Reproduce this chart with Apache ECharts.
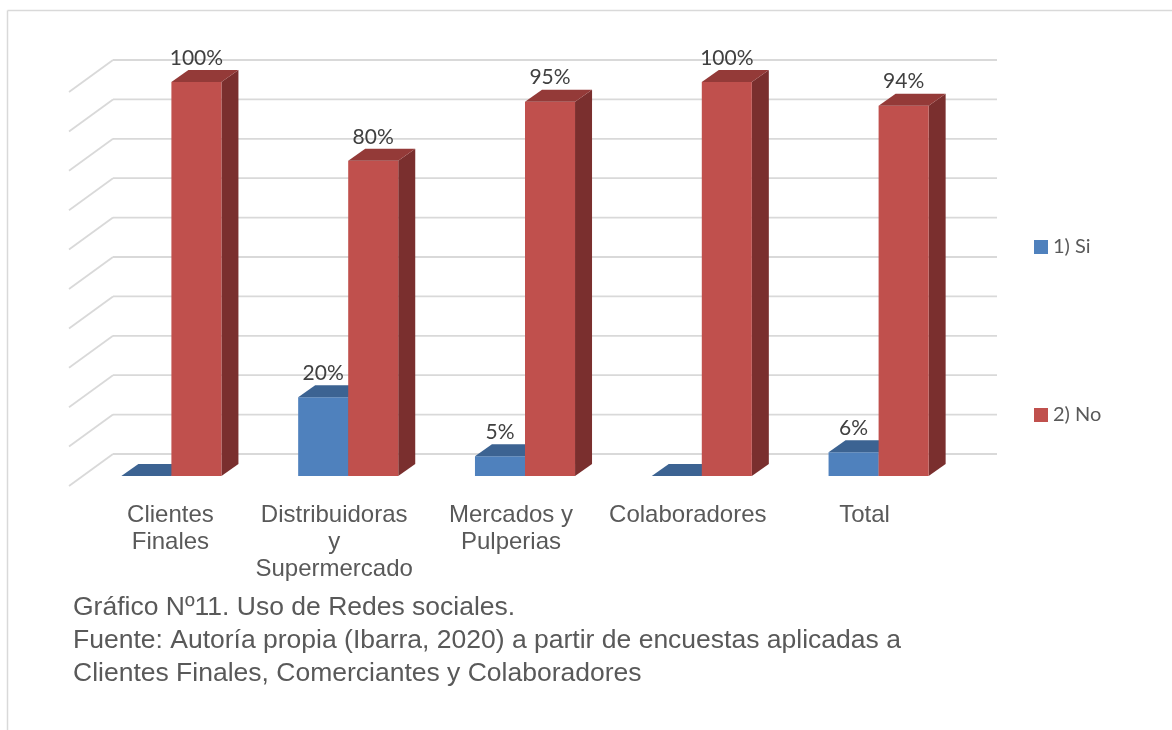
<!DOCTYPE html>
<html>
<head>
<meta charset="utf-8">
<script src="https://cdn.jsdelivr.net/npm/echarts@6/dist/echarts.min.js"></script>
<style>
  html, body { margin: 0; padding: 0; background: #ffffff; }
  #chart { width: 1172px; height: 730px; }
</style>
</head>
<body>
<div id="chart"></div>
<script>
// Uso de Redes sociales por tipo de encuestado (porcentaje)
const categories = ['Clientes\nFinales', 'Distribuidoras\ny\nSupermercado', 'Mercados y\nPulperias', 'Colaboradores', 'Total'];
const siValues = [0, 20, 5, 0, 6];
const noValues = [100, 80, 95, 100, 94];
const wallTicks = [0, 10, 20, 30, 40, 50, 60, 70, 80, 90, 100];
const seriesNames = ['1) Si', '2) No'];
const captionLines = [
  'Gráfico Nº11. Uso de Redes sociales.',
  'Fuente: Autoría propia (Ibarra, 2020) a partir de encuestas aplicadas a',
  'Clientes Finales, Comerciantes y Colaboradores'
];

// Pseudo-3D geometry (pixels): the grid is the front edge of the floor
const WALL_DX = 44, WALL_DY = -32;     // back wall offset from floor front
const FACE_DX = 14, FACE_DY = -10;     // bar front face offset from floor front
const DEPTH_DX = 17, DEPTH_DY = -12;   // bar depth
const BAR_FRACTION = 0.283;            // bar width as share of a category band

const palette = {
  si: { front: '#4F81BD', top: '#3C6392', side: '#2F5078' },
  no: { front: '#C0504D', top: '#943A38', side: '#7A2F2E' }
};

const chart = echarts.init(document.getElementById('chart'));

function renderWall(params, api) {
  const cs = params.coordSys;
  const y = api.coord([0, api.value(0)])[1];
  const left = cs.x, right = cs.x + cs.width;
  const style = { stroke: '#D9D9D9', lineWidth: 1.8, fill: null };
  return {
    type: 'group',
    children: [
      { type: 'line', shape: { x1: left + WALL_DX, y1: y + WALL_DY, x2: right + WALL_DX, y2: y + WALL_DY }, style: style, silent: true },
      { type: 'line', shape: { x1: left, y1: y, x2: left + WALL_DX, y2: y + WALL_DY }, style: style, silent: true }
    ]
  };
}

function makeBarRenderer(side, colors) {
  return function (params, api) {
    const idx = api.value(0);
    const val = api.value(1);
    const topPt = api.coord([idx, val]);
    const basePt = api.coord([idx, 0]);
    const barW = api.size([1, 0])[0] * BAR_FRACTION;
    const cx = topPt[0] + FACE_DX;
    const x0 = side === 'left' ? cx - barW : cx;
    const x1 = x0 + barW;
    const yTop = topPt[1] + FACE_DY;
    const yBot = basePt[1] + FACE_DY;
    const children = [
      { type: 'polygon', shape: { points: [[x1, yTop], [x1 + DEPTH_DX, yTop + DEPTH_DY], [x1 + DEPTH_DX, yBot + DEPTH_DY], [x1, yBot]] },
        style: { fill: colors.side } },
      { type: 'rect', shape: { x: x0, y: yTop, width: barW, height: Math.max(yBot - yTop, 0) },
        style: { fill: colors.front } },
      { type: 'polygon', shape: { points: [[x0, yTop], [x1, yTop], [x1 + DEPTH_DX, yTop + DEPTH_DY], [x0 + DEPTH_DX, yTop + DEPTH_DY]] },
        style: { fill: colors.top } }
    ];
    if (val > 0) {
      children.push({
        type: 'text',
        style: {
          x: (x0 + x1) / 2, y: yTop - 24,
          text: val + '%',
          align: 'center', verticalAlign: 'middle',
          fontFamily: 'Lato', fontSize: 21, fill: '#404040'
        }
      });
    }
    return { type: 'group', children: children };
  };
}

const option = {
  backgroundColor: '#ffffff',
  animation: false,
  grid: { left: 69, right: 219, top: 92, bottom: 244, containLabel: false },
  xAxis: {
    type: 'category',
    data: categories,
    axisLine: { show: false },
    axisTick: { show: false },
    splitLine: { show: false },
    axisLabel: {
      interval: 0,
      margin: 16,
      fontFamily: 'Liberation Sans',
      fontSize: 24,
      lineHeight: 27,
      color: '#595959',
      formatter: function (value, index) {
        if (index === 0) {
          return value.split('\n').map(function (s) { return '{first|' + s + '}'; }).join('\n');
        }
        return value;
      },
      rich: {
        first: { fontFamily: 'Liberation Sans', fontSize: 24, lineHeight: 27, color: '#595959', padding: [0, 0, 0, 26] }
      }
    }
  },
  yAxis: { type: 'value', min: 0, max: 100, interval: 10, show: false },
  legend: {
    orient: 'vertical',
    left: 1034,
    top: 237,
    padding: 0,
    itemWidth: 14,
    itemHeight: 14,
    itemGap: 148,
    icon: 'rect',
    data: seriesNames,
    textStyle: { fontFamily: 'Lato', fontSize: 20, color: '#595959' }
  },
  graphic: [
    { type: 'line', shape: { x1: 7.5, y1: 10.5, x2: 7.5, y2: 730 }, style: { stroke: '#D9D9D9', lineWidth: 1.5 }, silent: true },
    { type: 'line', shape: { x1: 7.5, y1: 10.5, x2: 1172, y2: 10.5 }, style: { stroke: '#D9D9D9', lineWidth: 1.5 }, silent: true },
    {
      type: 'text', left: 73, top: 591, silent: true,
      style: {
        text: captionLines.join('\n'),
        fontFamily: 'Liberation Sans', fontSize: 26.5, lineHeight: 33, fill: '#595959'
      }
    }
  ],
  series: [
    {
      name: 'wall', type: 'custom', silent: true, z: 1,
      renderItem: renderWall,
      data: wallTicks.map(function (v) { return [v]; }),
      encode: { y: 0 }
    },
    {
      name: seriesNames[0], type: 'custom', z: 2,
      itemStyle: { color: palette.si.front },
      renderItem: makeBarRenderer('left', palette.si),
      data: siValues.map(function (v, i) { return [i, v]; }),
      encode: { x: 0, y: 1 }
    },
    {
      name: seriesNames[1], type: 'custom', z: 3,
      itemStyle: { color: palette.no.front },
      renderItem: makeBarRenderer('right', palette.no),
      data: noValues.map(function (v, i) { return [i, v]; }),
      encode: { x: 0, y: 1 }
    }
  ]
};

chart.setOption(option);
</script>
</body>
</html>
